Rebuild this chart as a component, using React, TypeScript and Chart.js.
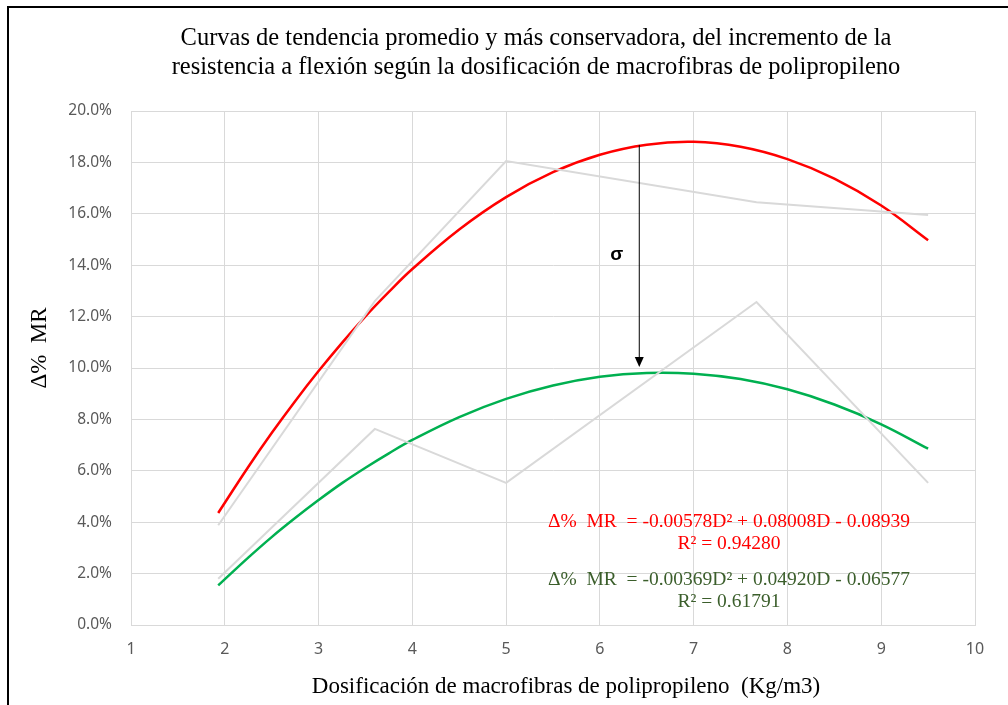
import React, { useEffect, useRef } from "react";
import { Chart, registerables } from "chart.js";

Chart.register(...registerables);

// Trend-curve samples (dosage D, ΔMR fraction)
const curveX = [1.93, 2.25, 2.5, 2.75, 3, 3.25, 3.5, 3.75, 4, 4.5, 5, 5.5, 6, 6.5, 7, 7.5, 8, 8.5, 9, 9.5];
const redCurve = [0.0436, 0.0615, 0.0747, 0.0871, 0.0988, 0.1098, 0.1201, 0.1296, 0.1385, 0.1539, 0.1665, 0.1762, 0.1830, 0.1869, 0.1880, 0.1861, 0.1813, 0.1737, 0.1632, 0.1497];
const greenCurve = [0.0154, 0.0262, 0.0342, 0.0416, 0.0486, 0.0552, 0.0612, 0.0668, 0.0720, 0.0809, 0.0880, 0.0932, 0.0966, 0.0981, 0.0978, 0.0957, 0.0917, 0.0858, 0.0781, 0.0686];

// Measured data (gray polylines)
const dataX = [1.93, 3.6, 5, 7.67, 9.5];
const grayUpper = [0.0388, 0.126, 0.1805, 0.1645, 0.1595];
const grayLower = [0.018, 0.0763, 0.0553, 0.1257, 0.0553];

// Arrow (σ)
const arrowX = 6.42;
const arrowFrom = 0.1868;
const arrowTo = 0.1004;
const sigmaPos = [6.18, 0.144];

const titleLines = [
  "Curvas de tendencia promedio y más conservadora, del incremento de la",
  "resistencia a flexión según la dosificación de macrofibras de polipropileno",
];
const xTitle = "Dosificación de macrofibras de polipropileno  (Kg/m3)";
const yTitle = "Δ%  MR";
const redEq = ["Δ%  MR  = -0.00578D² + 0.08008D - 0.08939", "R² = 0.94280"];
const greenEq = ["Δ%  MR  = -0.00369D² + 0.04920D - 0.06577", "R² = 0.61791"];

const pts = (xs: number[], ys: number[]) => xs.map((x, i) => ({ x, y: ys[i] }));

const serif = "'Liberation Serif', 'Times New Roman', serif";

const decor = {
  id: "decor",
  beforeDraw(chart: any) {
    const ctx = chart.ctx;
    ctx.save();
    ctx.fillStyle = "#ffffff";
    ctx.fillRect(0, 0, chart.width, chart.height);
    ctx.fillStyle = "#000000";
    ctx.fillRect(7, 6, 2, chart.height - 6);
    ctx.fillRect(7, 6, chart.width - 7, 2);
    ctx.restore();
  },
  afterDraw(chart: any) {
    const ctx = chart.ctx;
    const xs = chart.scales.x;
    const ys = chart.scales.y;
    ctx.save();
    // title
    ctx.fillStyle = "#000000";
    ctx.font = `24.5px ${serif}`;
    ctx.textAlign = "center";
    ctx.textBaseline = "middle";
    ctx.fillText(titleLines[0], 536, 39);
    ctx.fillText(titleLines[1], 536, 68);
    // axis titles
    ctx.font = `23px ${serif}`;
    ctx.fillText(xTitle, 566, 687);
    ctx.save();
    ctx.translate(40, 348);
    ctx.rotate(-Math.PI / 2);
    ctx.fillText(yTitle, 0, 0);
    ctx.restore();
    // equations
    ctx.font = `19.5px ${serif}`;
    ctx.fillStyle = "#ff0000";
    ctx.fillText(redEq[0], 729, 522);
    ctx.fillText(redEq[1], 729, 544);
    ctx.fillStyle = "#3b5e2b";
    ctx.fillText(greenEq[0], 729, 580);
    ctx.fillText(greenEq[1], 729, 602);
    // arrow
    const ax = xs.getPixelForValue(arrowX);
    const y1 = ys.getPixelForValue(arrowFrom);
    const y2 = ys.getPixelForValue(arrowTo);
    ctx.strokeStyle = "#000000";
    ctx.lineWidth = 1;
    ctx.beginPath();
    ctx.moveTo(ax, y1);
    ctx.lineTo(ax, y2 - 9);
    ctx.stroke();
    ctx.fillStyle = "#000000";
    ctx.beginPath();
    ctx.moveTo(ax - 4.5, y2 - 10);
    ctx.lineTo(ax + 4.5, y2 - 10);
    ctx.lineTo(ax, y2);
    ctx.closePath();
    ctx.fill();
    // sigma
    ctx.font = `bold 19px 'Liberation Sans', Arial, sans-serif`;
    ctx.fillText("σ", xs.getPixelForValue(sigmaPos[0]), ys.getPixelForValue(sigmaPos[1]));
    ctx.restore();
  },
};

export default function App() {
  const ref = useRef<HTMLCanvasElement>(null);
  useEffect(() => {
    document.body.style.margin = "0";
    const chart = new Chart(ref.current!, {
      type: "line",
      data: {
        datasets: [
          { data: pts(dataX, grayUpper), borderColor: "#d9d9d9", borderWidth: 2, pointRadius: 0, tension: 0 },
          { data: pts(dataX, grayLower), borderColor: "#d9d9d9", borderWidth: 2, pointRadius: 0, tension: 0 },
          { data: pts(curveX, redCurve), borderColor: "#ff0000", borderWidth: 2.5, pointRadius: 0, tension: 0.4 },
          { data: pts(curveX, greenCurve), borderColor: "#00b050", borderWidth: 2.5, pointRadius: 0, tension: 0.4 },
        ],
      },
      options: {
        animation: false,
        responsive: false,
        events: [],
        layout: { padding: { top: 111, right: 33, left: 21, bottom: 40 } },
        plugins: { legend: { display: false }, title: { display: false }, tooltip: { enabled: false } },
        scales: {
          x: {
            type: "linear",
            min: 1,
            max: 10,
            afterFit: (s: any) => { s.height = 40; },
            ticks: { stepSize: 1, color: "#595959", padding: 15, font: { size: 16, family: "'Noto Sans', sans-serif" } },
            grid: { color: "#d9d9d9", lineWidth: 1, drawTicks: false },
            border: { color: "#d9d9d9" },
          },
          y: {
            min: 0,
            max: 0.2,
            afterFit: (s: any) => { s.width = 110; },
            ticks: {
              stepSize: 0.02,
              color: "#595959",
              padding: 19,
              font: { size: 15.5, family: "'Noto Sans', sans-serif" },
              callback: (v: any) => (Number(v) * 100).toFixed(1) + "%",
            },
            grid: { color: "#d9d9d9", lineWidth: 1, drawTicks: false },
            border: { color: "#d9d9d9" },
          },
        },
      },
      plugins: [decor],
    });
    return () => chart.destroy();
  }, []);
  return <canvas ref={ref} width={1008} height={705} style={{ display: "block" }} />;
}
